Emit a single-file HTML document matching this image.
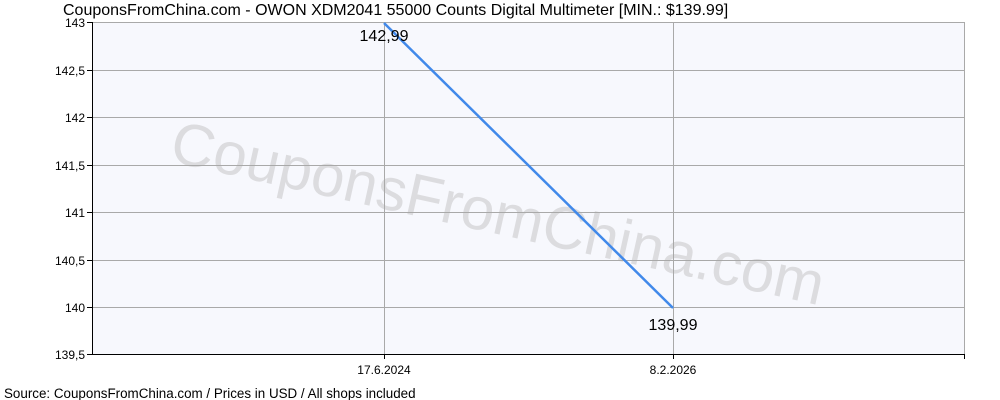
<!DOCTYPE html>
<html><head><style>body{margin:0;background:#fff}svg{display:block}</style></head><body>
<svg width="1000" height="400" xmlns="http://www.w3.org/2000/svg" font-family="Liberation Sans, Arial, sans-serif">
<rect width="1000" height="400" fill="#fff"/>
<rect x="92" y="22" width="872" height="332" fill="#f7f8fd"/>
<text x="168" y="161" font-size="60" fill="#dcdcdf" transform="rotate(12.5 168 161)">CouponsFromChina.com</text>
<g stroke="#a9a9a9" stroke-width="1">
<line x1="92" y1="22.5" x2="964" y2="22.5"/>
<line x1="92" y1="70.5" x2="964" y2="70.5"/>
<line x1="92" y1="117.5" x2="964" y2="117.5"/>
<line x1="92" y1="165.5" x2="964" y2="165.5"/>
<line x1="92" y1="212.5" x2="964" y2="212.5"/>
<line x1="92" y1="260.5" x2="964" y2="260.5"/>
<line x1="92" y1="307.5" x2="964" y2="307.5"/>
<line x1="384.5" y1="22" x2="384.5" y2="354"/>
<line x1="673.5" y1="22" x2="673.5" y2="354"/>
<line x1="964.5" y1="22" x2="964.5" y2="354"/>
</g>
<g stroke="#000" stroke-width="1">
<line x1="92.5" y1="22" x2="92.5" y2="355"/>
<line x1="92" y1="354.5" x2="964" y2="354.5"/>
<line x1="87" y1="22.5" x2="92" y2="22.5"/>
<line x1="87" y1="70.5" x2="92" y2="70.5"/>
<line x1="87" y1="117.5" x2="92" y2="117.5"/>
<line x1="87" y1="165.5" x2="92" y2="165.5"/>
<line x1="87" y1="212.5" x2="92" y2="212.5"/>
<line x1="87" y1="260.5" x2="92" y2="260.5"/>
<line x1="87" y1="307.5" x2="92" y2="307.5"/>
<line x1="87" y1="354.5" x2="92" y2="354.5"/>
<line x1="384.5" y1="354" x2="384.5" y2="359"/>
<line x1="673.5" y1="354" x2="673.5" y2="359"/>
<line x1="964.5" y1="354" x2="964.5" y2="359"/>
</g>
<g font-size="12" fill="#000" text-anchor="end">
<text x="85" y="27">143</text>
<text x="85" y="75">142,5</text>
<text x="85" y="122">142</text>
<text x="85" y="170">141,5</text>
<text x="85" y="217">141</text>
<text x="85" y="265">140,5</text>
<text x="85" y="312">140</text>
<text x="85" y="359">139,5</text>
</g>
<g font-size="12" fill="#000" text-anchor="middle">
<text x="384" y="374">17.6.2024</text>
<text x="673" y="374">8.2.2026</text>
</g>
<line x1="384" y1="23" x2="673" y2="308" stroke="#4189ea" stroke-width="2.5"/>
<g font-size="16" fill="#000" text-anchor="middle">
<text x="384" y="41">142,99</text>
<text x="673" y="330">139,99</text>
</g>
<text x="63" y="15" font-size="16" fill="#000">CouponsFromChina.com - OWON XDM2041 55000 Counts Digital Multimeter [MIN.: $139.99]</text>
<text x="4" y="398" font-size="13.4" fill="#000">Source: CouponsFromChina.com / Prices in USD / All shops included</text>
</svg>
</body></html>
